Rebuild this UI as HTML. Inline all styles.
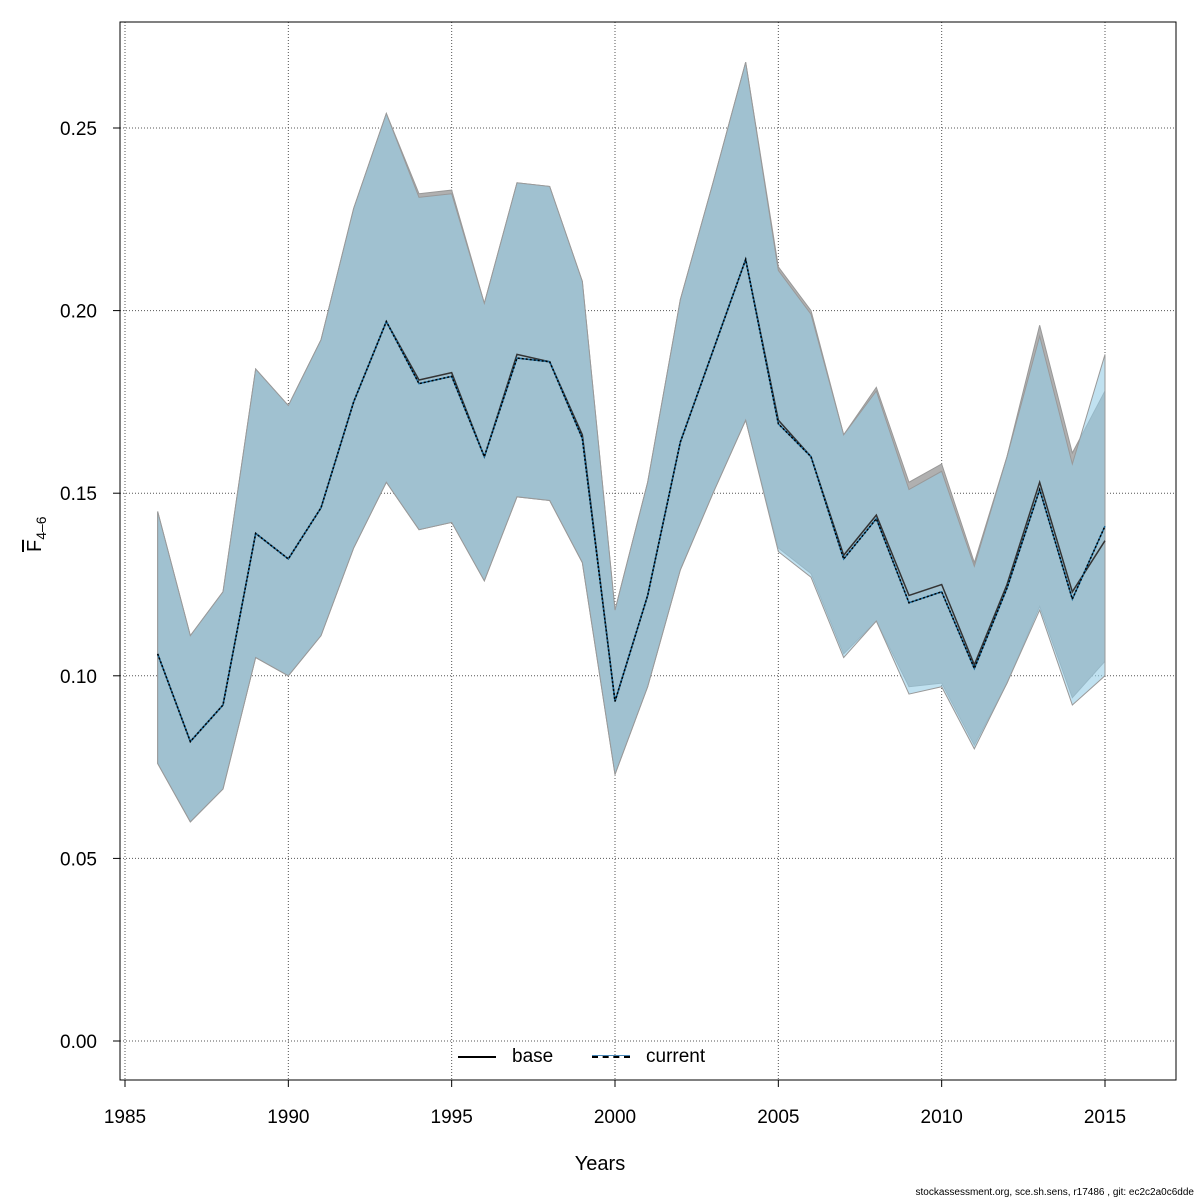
<!DOCTYPE html>
<html><head><meta charset="utf-8"><style>
body{margin:0;background:#fff;}
svg{display:block;font-family:"Liberation Sans",sans-serif;}
</style></head><body>
<svg id="chart" width="1200" height="1200"></svg>
<script>
const years=[1986,1987,1988,1989,1990,1991,1992,1993,1994,1995,1996,1997,1998,1999,2000,2001,2002,2003,2004,2005,2006,2007,2008,2009,2010,2011,2012,2013,2014,2015];
const baseMean=[0.106,0.082,0.092,0.139,0.132,0.146,0.175,0.197,0.181,0.183,0.160,0.188,0.186,0.166,0.093,0.122,0.164,0.189,0.214,0.170,0.160,0.133,0.144,0.122,0.125,0.103,0.125,0.153,0.123,0.137];
const baseUpper=[0.145,0.111,0.123,0.184,0.174,0.192,0.228,0.254,0.232,0.233,0.202,0.235,0.234,0.208,0.118,0.153,0.203,0.235,0.268,0.212,0.200,0.166,0.179,0.153,0.158,0.131,0.160,0.196,0.161,0.178];
const baseLower=[0.076,0.060,0.069,0.105,0.100,0.111,0.135,0.153,0.140,0.142,0.126,0.149,0.148,0.131,0.073,0.097,0.129,0.150,0.170,0.135,0.128,0.106,0.115,0.097,0.098,0.081,0.098,0.119,0.094,0.104];
const curMean=[0.106,0.082,0.092,0.139,0.132,0.146,0.175,0.197,0.180,0.182,0.160,0.187,0.186,0.165,0.093,0.122,0.164,0.189,0.214,0.169,0.160,0.132,0.143,0.120,0.123,0.102,0.124,0.151,0.121,0.141];
const curUpper=[0.145,0.111,0.123,0.184,0.174,0.192,0.228,0.254,0.231,0.232,0.202,0.235,0.234,0.208,0.118,0.153,0.203,0.235,0.268,0.211,0.199,0.166,0.178,0.151,0.156,0.130,0.160,0.193,0.158,0.188];
const curLower=[0.076,0.060,0.069,0.105,0.100,0.111,0.135,0.153,0.140,0.142,0.126,0.149,0.148,0.131,0.073,0.097,0.129,0.150,0.170,0.134,0.127,0.105,0.115,0.095,0.097,0.080,0.098,0.118,0.092,0.100];
const xTicks=[1985,1990,1995,2000,2005,2010,2015];
const yTicks=[0,0.05,0.10,0.15,0.20,0.25];
const yTickLabels=["0.00","0.05","0.10","0.15","0.20","0.25"];

const X=y=>125+(y-1985)*(980/30);
const Y=v=>1041-v*3652;
const svg=document.getElementById('chart');
const NS='http://www.w3.org/2000/svg';
function mk(t,a,p){const e=document.createElementNS(NS,t);for(const k in a)e.setAttribute(k,a[k]);(p||svg).appendChild(e);return e;}

xTicks.forEach(t=>{const l=mk('line',{x1:X(t),x2:X(t),y1:22,y2:1080,stroke:'#555','stroke-width':1,'stroke-dasharray':'1,2'});

});
yTicks.forEach(t=>{const l=mk('line',{x1:120,x2:1176,y1:Y(t),y2:Y(t),stroke:'#555','stroke-width':1,'stroke-dasharray':'1,2'});

});

function band(up,lo,fill,name){
  let pts=years.map((y,i)=>X(y)+','+Y(up[i]));
  for(let i=years.length-1;i>=0;i--)pts.push(X(years[i])+','+Y(lo[i]));
  const p=mk('polygon',{points:pts.join(' '),fill:fill,stroke:'#999','stroke-width':1});
  
  
}
band(baseUpper,baseLower,'#b0b0b0','base-ci-band');
band(curUpper,curLower,'rgba(150,205,230,0.6)','current-ci-band');

function line(vals,attrs,name){
  const p=mk('polyline',Object.assign({points:years.map((y,i)=>X(y)+','+Y(vals[i])).join(' '),fill:'none'},attrs));
  
  
}
line(baseMean,{stroke:'#333','stroke-width':1.5},'base-line');
line(curMean,{stroke:'#1a6a9a','stroke-width':1.5},'current-line-bg');
line(curMean,{stroke:'#000','stroke-width':1.5,'stroke-dasharray':'2,2'},'current-line');

const box=mk('rect',{x:120,y:22,width:1056,height:1058,fill:'none',stroke:'#000','stroke-width':1});



const xa=mk('line',{x1:X(1985),x2:X(2015),y1:1080,y2:1080,stroke:'#000'});


xTicks.forEach(t=>{
  mk('line',{x1:X(t),x2:X(t),y1:1080,y2:1087,stroke:'#000'});
  const tx=mk('text',{x:X(t),y:1123,'text-anchor':'middle','font-size':19});
  tx.textContent=t;
  
  
});
const ya=mk('line',{x1:120,x2:120,y1:Y(0),y2:Y(0.25),stroke:'#000'});


yTicks.forEach((t,i)=>{
  mk('line',{x1:113,x2:120,y1:Y(t),y2:Y(t),stroke:'#000'});
  const tx=mk('text',{x:97,y:Y(t)+7,'text-anchor':'end','font-size':19});
  tx.textContent=yTickLabels[i];
  
  
});
</script>
<div style="position:absolute;left:0;top:0;width:1200px;height:1200px;pointer-events:none;font-family:'Liberation Sans',sans-serif;">
  <div style="position:absolute;left:600px;top:1153px;transform:translateX(-50%);font-size:20px;">Years</div>
  <div style="position:absolute;left:24px;top:552px;transform:rotate(-90deg);transform-origin:left top;font-size:20px;white-space:nowrap;"><span style="text-decoration:overline">F</span><sub style="font-size:14px">4–6</sub></div>
  <div style="position:absolute;left:458px;top:1046px;font-size:19px;">
    <span style="position:absolute;left:0;top:0;white-space:nowrap;"><span style="display:inline-block;width:38px;border-top:2px solid #000;vertical-align:middle;margin-right:16px;"></span>base</span>
    <span style="position:absolute;left:134px;top:0;white-space:nowrap;"><span style="display:inline-block;width:38px;border-top:2px dashed #000;vertical-align:middle;margin-right:16px;box-shadow:0 -1px 0 #4a8aba;"></span>current</span>
  </div>
  <div style="position:absolute;right:6px;top:1187px;font-size:10px;">stockassessment.org, sce.sh.sens, r17486 , git: ec2c2a0c6dde</div>
</div>
</body></html>
